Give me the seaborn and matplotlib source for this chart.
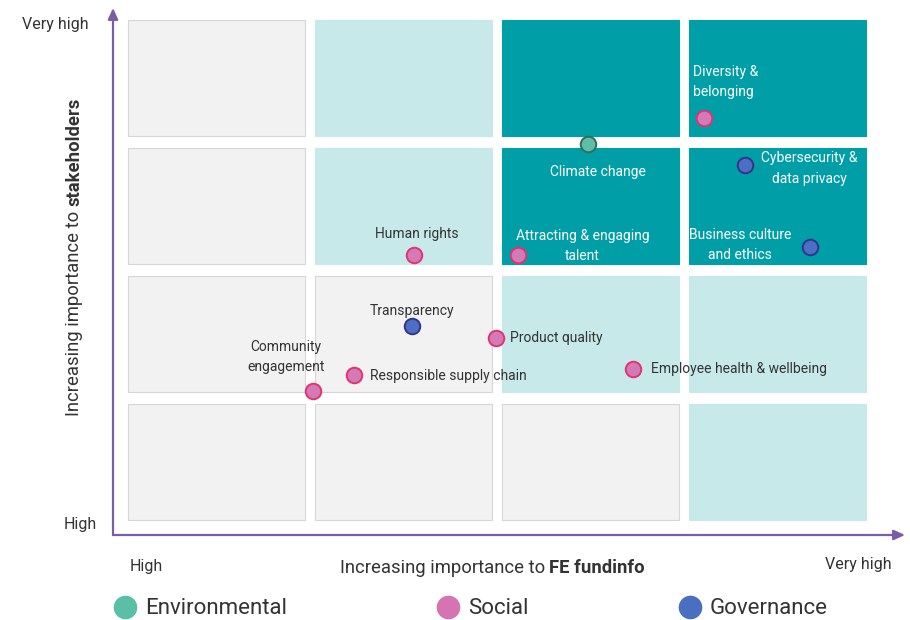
import pandas as pd
import numpy as np
import matplotlib.pyplot as plt
from matplotlib.lines import Line2D
import seaborn as sns

# material topics, scored 0-4 on each axis (one unit = one grid cell)
topics = ['Climate change', 'Diversity &\nbelonging', 'Cybersecurity &\ndata privacy',
          'Business culture\nand ethics', 'Attracting & engaging\ntalent', 'Human rights',
          'Transparency', 'Product quality', 'Responsible supply chain',
          'Community\nengagement', 'Employee health & wellbeing']
pillar = ['Environmental', 'Social', 'Governance', 'Governance', 'Social', 'Social',
          'Governance', 'Social', 'Social', 'Social', 'Social']
fe_importance = [2.49, 3.11, 3.33, 3.68, 2.12, 1.56, 1.55, 2.00, 1.24, 1.02, 2.73]
stakeholder_importance = [2.97, 3.17, 2.80, 2.16, 2.10, 2.10, 1.55, 1.45, 1.16, 1.04, 1.21]

pillars = ['Environmental', 'Social', 'Governance']

# cell shading, bottom row first: 0 grey, 1 light teal, 2 dark teal
cell_tier = [[0, 0, 0, 1],
             [0, 0, 1, 1],
             [0, 1, 2, 2],
             [0, 1, 2, 2]]

df = pd.DataFrame({'topic': topics, 'pillar': pillar,
                   'fe': fe_importance, 'stake': stakeholder_importance})

sns.set_theme(style='white')
plt.rcParams['font.family'] = ['Roboto', 'DejaVu Sans']

purple = '#7a5ca8'
text_dark = '#333333'
tier_fill = ['#f2f2f2', '#c8e9ea', '#009ea6']
tier_edge = ['#d6d6d6', '#c8e9ea', '#009ea6']
fill = {'Environmental': '#5dbfa6', 'Social': '#d47ab6', 'Governance': '#4c6fc5'}
edge = {'Environmental': '#2f6e5a', 'Social': '#e2336f', 'Governance': '#33338a'}
legend_col = {'Environmental': '#5bbfa8', 'Social': '#d673b1', 'Governance': '#4a6fc0'}

# label placement: offset in pixels from the point, alignment, white text?
label_pos = {
    'Climate change': (10, -28, 'center', True),
    'Diversity &\nbelonging': (-11, 36, 'left', True),
    'Cybersecurity &\ndata privacy': (65, -3, 'center', True),
    'Business culture\nand ethics': (-70, 2, 'center', True),
    'Attracting & engaging\ntalent': (64, 9, 'center', True),
    'Human rights': (3, 21, 'center', False),
    'Transparency': (0, 15, 'center', False),
    'Product quality': (14, 0, 'left', False),
    'Responsible supply chain': (16, -1, 'left', False),
    'Community\nengagement': (-27, 34, 'center', False),
    'Employee health & wellbeing': (18, 0, 'left', False),
}

fig = plt.figure(figsize=(9.1, 6.2), dpi=100)
ax = fig.add_axes([113/910, 85/620, 792/910, 527/620])
ax.set_xlim(-0.048, 4.187)
ax.set_ylim(-0.086, 4.03)
ax.axis('off')

# background grid of cells
for j, row in enumerate(cell_tier):
    for i, t in enumerate(row):
        ax.bar(i + 0.505, 0.91, width=0.95, bottom=j + 0.03,
               color=tier_fill[t], edgecolor=tier_edge[t], linewidth=0.8, zorder=1)

# axis arrows
arrow = dict(arrowstyle='-|>,head_length=0.55,head_width=0.25', color=purple,
             lw=1.6, shrinkA=0, shrinkB=0)
ax.annotate('', xy=(0, 1), xytext=(0, 0), xycoords='axes fraction', arrowprops=arrow)
ax.annotate('', xy=(1, 0), xytext=(0, 0), xycoords='axes fraction', arrowprops=arrow)

# points
for p in pillars:
    sub = df[df['pillar'] == p]
    sns.scatterplot(data=sub, x='fe', y='stake', color=fill[p], edgecolor=edge[p],
                    linewidth=1.4, s=125, zorder=4, ax=ax, legend=False)

# point labels
for _, r in df.iterrows():
    dx, dy, ha, light = label_pos[r['topic']]
    ax.annotate(r['topic'], xy=(r['fe'], r['stake']), xytext=(dx, dy),
                textcoords='offset pixels', ha=ha, va='center', fontsize=10,
                linespacing=1.55, color='white' if light else text_dark, zorder=5)

# axis end labels
fig.text(55/910, 1 - 24/620, 'Very high', ha='center', va='center', fontsize=11.5, color=text_dark)
fig.text(80/910, 1 - 524/620, 'High', ha='center', va='center', fontsize=11.5, color=text_dark)
fig.text(146/910, 1 - 566/620, 'High', ha='center', va='center', fontsize=11.5, color=text_dark)
fig.text(858/910, 1 - 565/620, 'Very high', ha='center', va='center', fontsize=11.5, color=text_dark)

# axis titles with bold ending
fig.text(545/910, 1 - 568/620, 'Increasing importance to', ha='right', va='center',
         fontsize=13.3, color=text_dark)
fig.text(549/910, 1 - 568/620, 'FE fundinfo', ha='left', va='center',
         fontsize=13.3, color=text_dark, fontweight='bold')
fig.text(74/910, 1 - 211/620, 'Increasing importance to', ha='right', va='center',
         rotation=90, rotation_mode='anchor', fontsize=13.3, color=text_dark)
fig.text(74/910, 1 - 206/620, 'stakeholders', ha='left', va='center',
         rotation=90, rotation_mode='anchor', fontsize=13.3, color=text_dark, fontweight='bold')

# legend
handles = [Line2D([], [], linestyle='none', marker='o', markersize=16,
                  markerfacecolor=legend_col[p], markeredgecolor=legend_col[p]) for p in pillars]
fig.legend(handles, pillars, loc='center left', bbox_to_anchor=(114/910, 1 - 609/620),
           ncol=3, frameon=False, handlelength=1, handletextpad=0.4,
           columnspacing=6.75, borderpad=0, borderaxespad=0, labelcolor=text_dark,
           prop={'size': 16})

fig.savefig('out.png', dpi=100)
